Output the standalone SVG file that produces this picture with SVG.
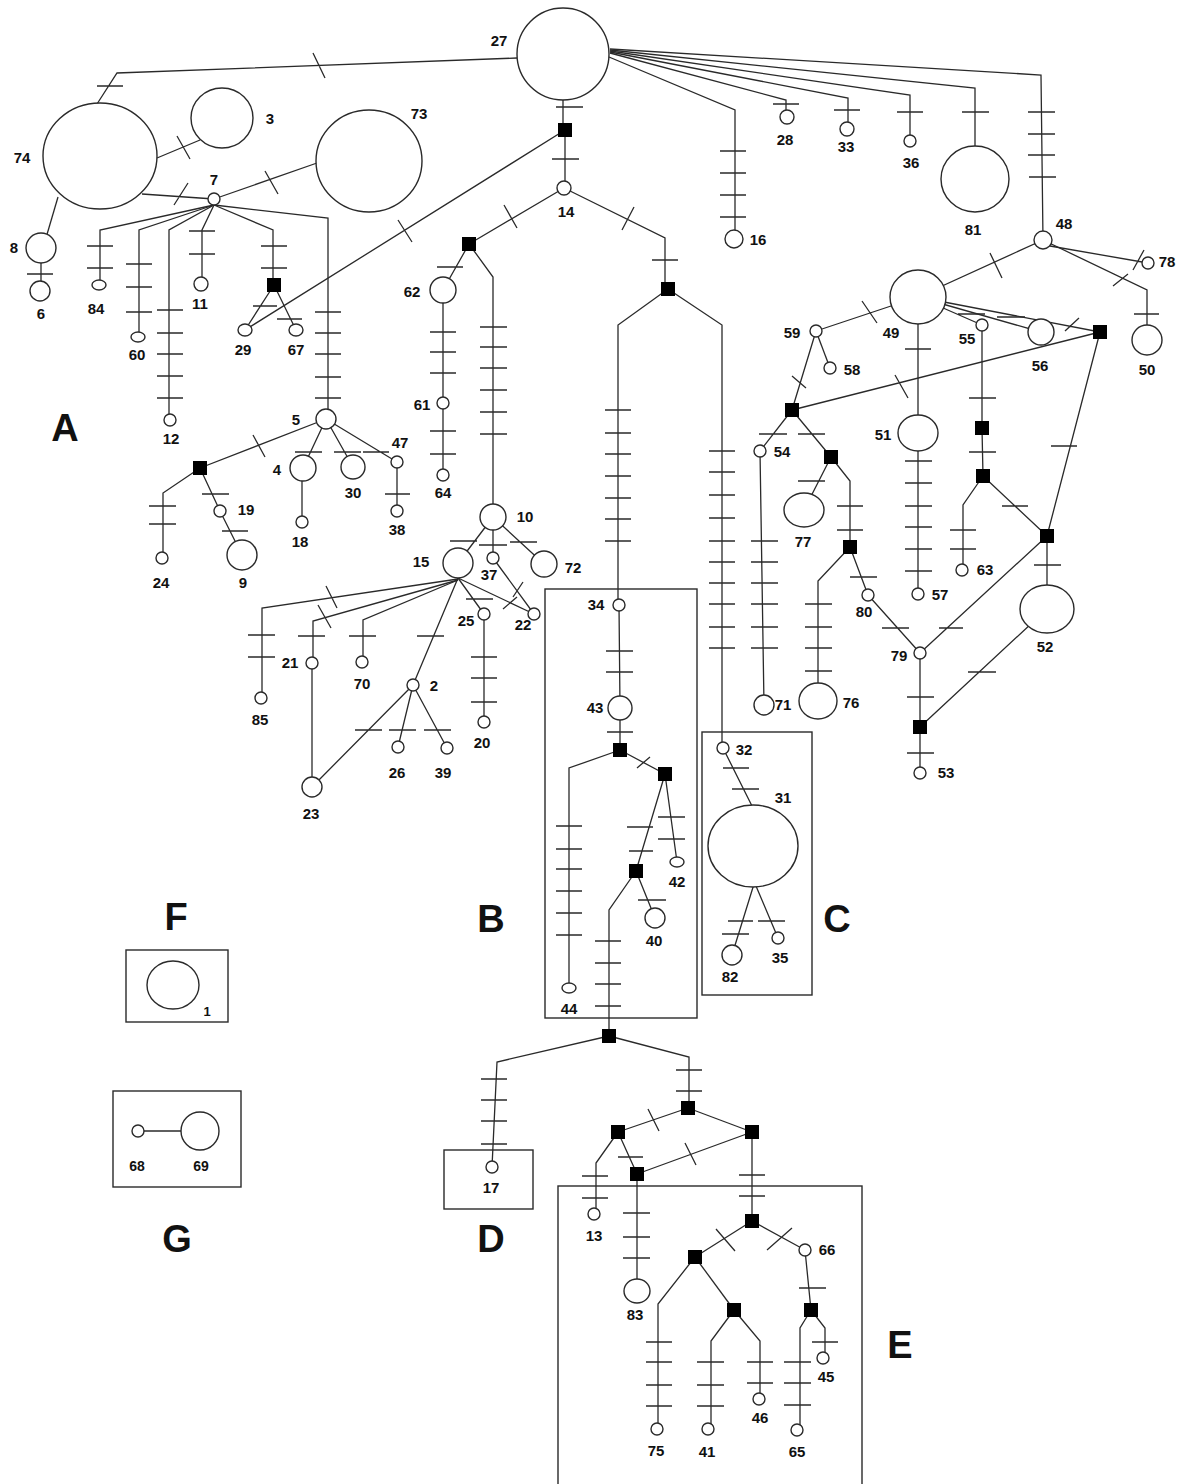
<svg xmlns="http://www.w3.org/2000/svg" width="1184" height="1484" viewBox="0 0 1184 1484">
<style>
  .e path{fill:none;stroke:#2a2a2a;stroke-width:1.3}
  .h{fill:#fff;stroke:#2a2a2a;stroke-width:1.4}
  .mv{fill:#000}
  .box{fill:none;stroke:#2a2a2a;stroke-width:1.4}
  text{font-family:"Liberation Sans",Arial,sans-serif;font-weight:bold;fill:#111}
  .lb{font-size:15px;text-anchor:middle}
  .grp{font-size:38px;text-anchor:middle}
</style>
<rect width="1184" height="1484" fill="#fff"/>

<!-- clade boxes -->
<g id="boxes">
  <rect class="box" x="545" y="589" width="152" height="429"/>
  <rect class="box" x="702" y="732" width="110" height="263"/>
  <rect class="box" x="444" y="1150" width="89" height="59"/>
  <rect class="box" x="558" y="1186" width="304" height="330"/>
  <rect class="box" x="126" y="950" width="102" height="72"/>
  <rect class="box" x="113" y="1091" width="128" height="96"/>
</g>

<!-- connectors; each path carries its mutation ticks -->
<g id="connectors" class="e">
  <path d="M517,58 L117,73 L97,104 M97,86 H123 M313,53 L325,78"/>
  <path d="M157,158 L200,140 M177,136 L190,159"/>
  <path d="M142,194 L214,199 M174,205 L188,183"/>
  <path d="M214,199 L317,163 M265,171 L278,194"/>
  <path d="M58,197 L43,248"/>
  <path d="M41,248 V291 M27,274 H53"/>
  <path d="M214,205 L100,230 V285 M87,246 H113 M87,268 H113"/>
  <path d="M214,205 L139,230 V337 M126,264 H152 M126,287 H152 M126,312 H152"/>
  <path d="M214,205 L169,230 V420 M157,310 H183 M157,333 H183 M157,354 H183 M157,376 H183 M157,398 H183"/>
  <path d="M214,205 L202,230 V284 M189,231 H215 M189,254 H215"/>
  <path d="M214,205 L273,230 V285 M261,246 H287 M261,268 H287"/>
  <path d="M214,205 L328,218 V419 M315,312 H341 M315,333 H341 M315,354 H341 M315,377 H341 M315,398 H341"/>
  <path d="M274,285 L245,330 M253,306 H277"/>
  <path d="M274,285 L296,330 M277,319 H302"/>
  <path d="M245,330 L565,130 M398,220 L412,242"/>
  <path d="M563,54 V130 M556,107 H583"/>
  <path d="M565,130 V188 M552,159 H579"/>
  <path d="M564,188 L469,244 M504,205 L517,228"/>
  <path d="M469,244 L443,290 M437,267 H463"/>
  <path d="M469,244 L493,277 V517 M480,327 H507 M480,347 H507 M480,368 H507 M480,390 H507 M480,412 H507 M480,434 H507"/>
  <path d="M443,290 V403 M430,332 H456 M430,352 H456 M430,373 H456"/>
  <path d="M443,403 V475 M430,431 H456 M430,454 H456"/>
  <path d="M564,188 L665,238 V289 M622,230 L634,207 M652,260 H678"/>
  <path d="M668,289 L618,325 V605 M605,410 H631 M605,433 H631 M605,454 H631 M605,476 H631 M605,498 H631 M605,519 H631 M605,541 H631"/>
  <path d="M668,289 L722,325 V748 M709,451 H735 M709,472 H735 M709,495 H735 M709,518 H735 M709,541 H735 M709,562 H735 M709,583 H735 M709,604 H735 M709,627 H735 M709,648 H735"/>
  <path d="M619,605 L620,708 M606,651 H633 M606,672 H633"/>
  <path d="M620,708 V750 M607,732 H633"/>
  <path d="M620,750 L569,768 V988 M556,826 H582 M556,849 H582 M556,869 H582 M556,891 H582 M556,913 H582 M556,935 H582"/>
  <path d="M620,750 L665,774 M637,768 L650,757"/>
  <path d="M665,774 L677,862 M658,817 H685 M658,839 H685"/>
  <path d="M665,774 L636,871 M627,827 H653 M629,851 H653"/>
  <path d="M636,871 L655,918 M638,900 H666"/>
  <path d="M636,871 L609,910 V1036 M595,941 H621 M595,963 H621 M595,984 H621 M595,1006 H621"/>
  <path d="M723,748 L753,808 M723,768 H749 M732,789 H759"/>
  <path d="M754,884 L732,955 M728,921 H753 M722,934 H749"/>
  <path d="M756,886 L778,938 M758,921 H785"/>
  <path d="M493,517 L458,563 M450,541 H477"/>
  <path d="M493,517 V558 M479,545 H507"/>
  <path d="M493,517 L544,564 M510,542 H537"/>
  <path d="M493,558 L534,614 M513,597 L523,582"/>
  <path d="M458,578 L534,614 M503,609 L517,597"/>
  <path d="M458,578 L484,614 M466,599 H493"/>
  <path d="M484,614 V722 M471,657 H497 M471,678 H497 M471,702 H497"/>
  <path d="M458,578 L413,685 M417,636 H444"/>
  <path d="M413,685 L398,747 M389,730 H416"/>
  <path d="M413,685 L447,748 M424,730 H451"/>
  <path d="M413,685 L312,787 M355,730 H382"/>
  <path d="M458,579 L262,608 V698 M248,635 H275 M248,657 H275 M326,586 L337,608"/>
  <path d="M458,580 L313,621 V663 M318,605 L331,628 M298,636 H325"/>
  <path d="M312,663 V787"/>
  <path d="M458,580 L363,620 V662 M349,636 H376"/>
  <path d="M326,419 L200,468 M253,435 L265,457"/>
  <path d="M326,419 L303,468 M295,452 H322"/>
  <path d="M326,419 L353,467 M334,452 H361"/>
  <path d="M326,419 L397,462 M363,452 H389"/>
  <path d="M397,462 V511 M385,494 H410"/>
  <path d="M302,468 V522"/>
  <path d="M200,468 L163,493 V558 M149,506 H176 M149,524 H176"/>
  <path d="M200,468 L220,511 M202,494 H229"/>
  <path d="M220,511 L242,555 M222,531 H248"/>
  <path d="M609,57 L735,110 V239 M720,151 H746 M720,173 H746 M720,195 H746 M720,217 H746"/>
  <path d="M610,53 L786,100 V117 M773,104 H799"/>
  <path d="M610,52 L848,98 V129 M834,110 H860"/>
  <path d="M610,51 L910,95 V141 M897,112 H923"/>
  <path d="M610,50 L975,88 V179 M962,112 H989"/>
  <path d="M610,49 L1041,75 L1043,240 M1028,112 H1055 M1028,134 H1055 M1028,155 H1055 M1029,177 H1056"/>
  <path d="M1050,246 L1148,263 M1133,270 L1144,250"/>
  <path d="M1043,240 L1147,290 V340 M1113,286 L1128,274 M1134,314 H1159"/>
  <path d="M1043,240 L918,297 M990,253 L1002,278"/>
  <path d="M918,297 L816,331 M862,301 L877,323"/>
  <path d="M816,331 L830,368"/>
  <path d="M816,331 L792,410 M792,376 L806,388"/>
  <path d="M918,297 L982,325 M958,314 H985"/>
  <path d="M918,297 L1041,332 M997,317 H1025"/>
  <path d="M918,297 L1100,332 M1065,331 L1079,318"/>
  <path d="M1100,332 L792,410 M895,375 L908,398"/>
  <path d="M918,297 V433 M905,349 H931"/>
  <path d="M918,433 V594 M905,461 H932 M905,483 H932 M905,506 H932 M905,527 H932 M905,549 H932 M905,571 H932"/>
  <path d="M982,325 V428 M969,398 H996"/>
  <path d="M982,428 L983,476 M969,452 H996"/>
  <path d="M983,476 L963,505 V570 M950,530 H976 M950,549 H976"/>
  <path d="M983,476 L1047,536 M1002,506 H1028"/>
  <path d="M1100,332 L1047,536 M1051,446 H1077"/>
  <path d="M1047,536 V609 M1034,565 H1061"/>
  <path d="M1047,536 L920,653 M939,628 H963"/>
  <path d="M1047,609 L920,727 M968,672 H996"/>
  <path d="M920,653 V727 M907,697 H934"/>
  <path d="M920,727 V773 M907,753 H934"/>
  <path d="M868,595 L920,653 M882,628 H909"/>
  <path d="M792,410 L760,451 M759,434 H787"/>
  <path d="M792,410 L831,457 M798,434 H825"/>
  <path d="M831,457 L804,510 M798,481 H825"/>
  <path d="M831,457 L850,481 V547 M837,506 H863 M837,530 H863"/>
  <path d="M850,547 L818,581 V701 M805,604 H832 M805,627 H832 M805,648 H832 M805,671 H832"/>
  <path d="M850,547 L868,595 M850,577 H877"/>
  <path d="M760,451 L764,705 M751,541 H778 M751,562 H778 M751,583 H778 M751,604 H778 M751,627 H778 M751,648 H778"/>
  <path d="M609,1036 L497,1062 L492,1167 M481,1079 H507 M481,1100 H507 M481,1121 H507 M481,1144 H507"/>
  <path d="M609,1036 L689,1057 V1108 M676,1070 H702 M676,1091 H702"/>
  <path d="M688,1108 L618,1132 M648,1109 L659,1131"/>
  <path d="M688,1108 L752,1132"/>
  <path d="M618,1132 L596,1163 V1214 M582,1176 H608 M582,1198 H608"/>
  <path d="M618,1132 L637,1174 M618,1157 H643"/>
  <path d="M752,1132 L637,1174 M685,1143 L696,1165"/>
  <path d="M637,1174 V1291 M623,1213 H650 M623,1237 H650 M623,1258 H650"/>
  <path d="M752,1132 V1221 M739,1175 H765 M739,1196 H765"/>
  <path d="M752,1221 L695,1257 M716,1229 L735,1251"/>
  <path d="M752,1221 L805,1250 M767,1250 L792,1228"/>
  <path d="M695,1257 L658,1304 V1429 M646,1342 H672 M646,1362 H672 M646,1385 H672 M646,1406 H672"/>
  <path d="M695,1257 L734,1310"/>
  <path d="M734,1310 L711,1341 V1429 M697,1362 H724 M697,1385 H724 M697,1406 H724"/>
  <path d="M734,1310 L760,1341 V1399 M747,1362 H773 M747,1383 H773"/>
  <path d="M805,1250 L811,1310 M799,1288 H826"/>
  <path d="M811,1310 L800,1328 V1430 M784,1362 H811 M784,1383 H811 M784,1405 H811"/>
  <path d="M811,1310 L825,1328 V1358 M812,1342 H838"/>
  <path d="M138,1131 H200"/>
</g>

<!-- haplotypes -->
<g id="h27"><circle class="h" cx="563" cy="54" r="46"/><text class="lb" x="499" y="46">27</text></g>
<g id="h74"><ellipse class="h" cx="100" cy="156" rx="57" ry="53"/><text class="lb" x="22" y="163">74</text></g>
<g id="h3"><ellipse class="h" cx="222" cy="118" rx="31" ry="30"/><text class="lb" x="270" y="124">3</text></g>
<g id="h73"><ellipse class="h" cx="369" cy="161" rx="53" ry="51"/><text class="lb" x="419" y="119">73</text></g>
<g id="h7"><circle class="h" cx="214" cy="199" r="6"/><text class="lb" x="214" y="185">7</text></g>
<g id="h8"><circle class="h" cx="41" cy="248" r="15"/><text class="lb" x="14" y="253">8</text></g>
<g id="h6"><circle class="h" cx="40" cy="291" r="10"/><text class="lb" x="41" y="319">6</text></g>
<g id="h84"><ellipse class="h" cx="99" cy="285" rx="7" ry="5"/><text class="lb" x="96" y="314">84</text></g>
<g id="h60"><ellipse class="h" cx="138" cy="337" rx="7" ry="5"/><text class="lb" x="137" y="360">60</text></g>
<g id="h12"><circle class="h" cx="170" cy="420" r="6"/><text class="lb" x="171" y="444">12</text></g>
<g id="h11"><circle class="h" cx="201" cy="284" r="7"/><text class="lb" x="200" y="309">11</text></g>
<g id="h29"><ellipse class="h" cx="245" cy="330" rx="7" ry="6"/><text class="lb" x="243" y="355">29</text></g>
<g id="h67"><ellipse class="h" cx="296" cy="330" rx="7" ry="6"/><text class="lb" x="296" y="355">67</text></g>
<g id="h5"><circle class="h" cx="326" cy="419" r="10"/><text class="lb" x="296" y="425">5</text></g>
<g id="h4"><circle class="h" cx="303" cy="468" r="13"/><text class="lb" x="277" y="475">4</text></g>
<g id="h30"><circle class="h" cx="353" cy="467" r="12"/><text class="lb" x="353" y="498">30</text></g>
<g id="h47"><circle class="h" cx="397" cy="462" r="6"/><text class="lb" x="400" y="448">47</text></g>
<g id="h38"><circle class="h" cx="397" cy="511" r="6"/><text class="lb" x="397" y="535">38</text></g>
<g id="h18"><circle class="h" cx="302" cy="522" r="6"/><text class="lb" x="300" y="547">18</text></g>
<g id="h24"><circle class="h" cx="162" cy="558" r="6"/><text class="lb" x="161" y="588">24</text></g>
<g id="h19"><circle class="h" cx="220" cy="511" r="6"/><text class="lb" x="246" y="515">19</text></g>
<g id="h9"><circle class="h" cx="242" cy="555" r="15"/><text class="lb" x="243" y="588">9</text></g>
<g id="h14"><circle class="h" cx="564" cy="188" r="7"/><text class="lb" x="566" y="217">14</text></g>
<g id="h62"><circle class="h" cx="443" cy="290" r="13"/><text class="lb" x="412" y="297">62</text></g>
<g id="h61"><circle class="h" cx="443" cy="403" r="6"/><text class="lb" x="422" y="410">61</text></g>
<g id="h64"><circle class="h" cx="443" cy="475" r="6"/><text class="lb" x="443" y="498">64</text></g>
<g id="h10"><circle class="h" cx="493" cy="517" r="13"/><text class="lb" x="525" y="522">10</text></g>
<g id="h15"><circle class="h" cx="458" cy="563" r="15"/><text class="lb" x="421" y="567">15</text></g>
<g id="h37"><circle class="h" cx="493" cy="558" r="6"/><text class="lb" x="489" y="580">37</text></g>
<g id="h72"><circle class="h" cx="544" cy="564" r="13"/><text class="lb" x="573" y="573">72</text></g>
<g id="h22"><circle class="h" cx="534" cy="614" r="6"/><text class="lb" x="523" y="630">22</text></g>
<g id="h25"><circle class="h" cx="484" cy="614" r="6"/><text class="lb" x="466" y="626">25</text></g>
<g id="h20"><circle class="h" cx="484" cy="722" r="6"/><text class="lb" x="482" y="748">20</text></g>
<g id="h2"><circle class="h" cx="413" cy="685" r="6"/><text class="lb" x="434" y="691">2</text></g>
<g id="h26"><circle class="h" cx="398" cy="747" r="6"/><text class="lb" x="397" y="778">26</text></g>
<g id="h39"><circle class="h" cx="447" cy="748" r="6"/><text class="lb" x="443" y="778">39</text></g>
<g id="h23"><circle class="h" cx="312" cy="787" r="10"/><text class="lb" x="311" y="819">23</text></g>
<g id="h85"><circle class="h" cx="261" cy="698" r="6"/><text class="lb" x="260" y="725">85</text></g>
<g id="h21"><circle class="h" cx="312" cy="663" r="6"/><text class="lb" x="290" y="668">21</text></g>
<g id="h70"><circle class="h" cx="362" cy="662" r="6"/><text class="lb" x="362" y="689">70</text></g>
<g id="h34"><circle class="h" cx="619" cy="605" r="6"/><text class="lb" x="596" y="610">34</text></g>
<g id="h43"><circle class="h" cx="620" cy="708" r="12"/><text class="lb" x="595" y="713">43</text></g>
<g id="h44"><ellipse class="h" cx="569" cy="988" rx="7" ry="5"/><text class="lb" x="569" y="1014">44</text></g>
<g id="h42"><ellipse class="h" cx="677" cy="862" rx="7" ry="5"/><text class="lb" x="677" y="887">42</text></g>
<g id="h40"><circle class="h" cx="655" cy="918" r="10"/><text class="lb" x="654" y="946">40</text></g>
<g id="h32"><circle class="h" cx="723" cy="748" r="6"/><text class="lb" x="744" y="755">32</text></g>
<g id="h31"><ellipse class="h" cx="753" cy="846" rx="45" ry="41"/><text class="lb" x="783" y="803">31</text></g>
<g id="h82"><circle class="h" cx="732" cy="955" r="10"/><text class="lb" x="730" y="982">82</text></g>
<g id="h35"><circle class="h" cx="778" cy="938" r="6"/><text class="lb" x="780" y="963">35</text></g>
<g id="h16"><circle class="h" cx="734" cy="239" r="9"/><text class="lb" x="758" y="245">16</text></g>
<g id="h28"><circle class="h" cx="787" cy="117" r="7"/><text class="lb" x="785" y="145">28</text></g>
<g id="h33"><circle class="h" cx="847" cy="129" r="7"/><text class="lb" x="846" y="152">33</text></g>
<g id="h36"><circle class="h" cx="910" cy="141" r="6"/><text class="lb" x="911" y="168">36</text></g>
<g id="h81"><ellipse class="h" cx="975" cy="179" rx="34" ry="33"/><text class="lb" x="973" y="235">81</text></g>
<g id="h48"><circle class="h" cx="1043" cy="240" r="9"/><text class="lb" x="1064" y="229">48</text></g>
<g id="h78"><circle class="h" cx="1148" cy="263" r="6"/><text class="lb" x="1167" y="267">78</text></g>
<g id="h50"><circle class="h" cx="1147" cy="340" r="15"/><text class="lb" x="1147" y="375">50</text></g>
<g id="h49"><ellipse class="h" cx="918" cy="297" rx="28" ry="27"/><text class="lb" x="891" y="338">49</text></g>
<g id="h59"><circle class="h" cx="816" cy="331" r="6"/><text class="lb" x="792" y="338">59</text></g>
<g id="h58"><circle class="h" cx="830" cy="368" r="6"/><text class="lb" x="852" y="375">58</text></g>
<g id="h55"><circle class="h" cx="982" cy="325" r="6"/><text class="lb" x="967" y="344">55</text></g>
<g id="h56"><circle class="h" cx="1041" cy="332" r="13"/><text class="lb" x="1040" y="371">56</text></g>
<g id="h51"><ellipse class="h" cx="918" cy="433" rx="20" ry="18"/><text class="lb" x="883" y="440">51</text></g>
<g id="h57"><circle class="h" cx="918" cy="594" r="6"/><text class="lb" x="940" y="600">57</text></g>
<g id="h63"><circle class="h" cx="962" cy="570" r="6"/><text class="lb" x="985" y="575">63</text></g>
<g id="h52"><ellipse class="h" cx="1047" cy="609" rx="27" ry="24"/><text class="lb" x="1045" y="652">52</text></g>
<g id="h79"><circle class="h" cx="920" cy="653" r="6"/><text class="lb" x="899" y="661">79</text></g>
<g id="h53"><circle class="h" cx="920" cy="773" r="6"/><text class="lb" x="946" y="778">53</text></g>
<g id="h80"><circle class="h" cx="868" cy="595" r="6"/><text class="lb" x="864" y="617">80</text></g>
<g id="h54"><circle class="h" cx="760" cy="451" r="6"/><text class="lb" x="782" y="457">54</text></g>
<g id="h77"><ellipse class="h" cx="804" cy="510" rx="20" ry="17"/><text class="lb" x="803" y="547">77</text></g>
<g id="h76"><ellipse class="h" cx="818" cy="701" rx="19" ry="18"/><text class="lb" x="851" y="708">76</text></g>
<g id="h71"><circle class="h" cx="764" cy="705" r="10"/><text class="lb" x="783" y="710">71</text></g>
<g id="h17"><circle class="h" cx="492" cy="1167" r="6"/><text class="lb" x="491" y="1193">17</text></g>
<g id="h13"><circle class="h" cx="594" cy="1214" r="6"/><text class="lb" x="594" y="1241">13</text></g>
<g id="h83"><ellipse class="h" cx="637" cy="1291" rx="13" ry="12"/><text class="lb" x="635" y="1320">83</text></g>
<g id="h66"><circle class="h" cx="805" cy="1250" r="6"/><text class="lb" x="827" y="1255">66</text></g>
<g id="h75"><circle class="h" cx="657" cy="1429" r="6"/><text class="lb" x="656" y="1456">75</text></g>
<g id="h41"><circle class="h" cx="708" cy="1429" r="6"/><text class="lb" x="707" y="1457">41</text></g>
<g id="h46"><circle class="h" cx="759" cy="1399" r="6"/><text class="lb" x="760" y="1423">46</text></g>
<g id="h65"><circle class="h" cx="797" cy="1430" r="6"/><text class="lb" x="797" y="1457">65</text></g>
<g id="h45"><circle class="h" cx="823" cy="1358" r="6"/><text class="lb" x="826" y="1382">45</text></g>
<g id="h1"><ellipse class="h" cx="173" cy="985" rx="26" ry="24"/><text x="207" y="1016" style="font-size:13px;text-anchor:middle">1</text></g>
<g id="h68"><circle class="h" cx="138" cy="1131" r="6"/><text x="137" y="1171" style="font-size:14px;text-anchor:middle">68</text></g>
<g id="h69"><circle class="h" cx="200" cy="1131" r="19"/><text x="201" y="1171" style="font-size:14px;text-anchor:middle">69</text></g>

<!-- median vectors -->
<g id="mv1"><rect class="mv" x="267" y="278" width="14" height="14"/></g>
<g id="mv2"><rect class="mv" x="558" y="123" width="14" height="14"/></g>
<g id="mv3"><rect class="mv" x="462" y="237" width="14" height="14"/></g>
<g id="mv4"><rect class="mv" x="661" y="282" width="14" height="14"/></g>
<g id="mv5"><rect class="mv" x="193" y="461" width="14" height="14"/></g>
<g id="mv6"><rect class="mv" x="613" y="743" width="14" height="14"/></g>
<g id="mv7"><rect class="mv" x="658" y="767" width="14" height="14"/></g>
<g id="mv8"><rect class="mv" x="629" y="864" width="14" height="14"/></g>
<g id="mv9"><rect class="mv" x="602" y="1029" width="14" height="14"/></g>
<g id="mv10"><rect class="mv" x="1093" y="325" width="14" height="14"/></g>
<g id="mv11"><rect class="mv" x="785" y="403" width="14" height="14"/></g>
<g id="mv12"><rect class="mv" x="975" y="421" width="14" height="14"/></g>
<g id="mv13"><rect class="mv" x="976" y="469" width="14" height="14"/></g>
<g id="mv14"><rect class="mv" x="1040" y="529" width="14" height="14"/></g>
<g id="mv15"><rect class="mv" x="913" y="720" width="14" height="14"/></g>
<g id="mv16"><rect class="mv" x="824" y="450" width="14" height="14"/></g>
<g id="mv17"><rect class="mv" x="843" y="540" width="14" height="14"/></g>
<g id="mv18"><rect class="mv" x="681" y="1101" width="14" height="14"/></g>
<g id="mv19"><rect class="mv" x="611" y="1125" width="14" height="14"/></g>
<g id="mv20"><rect class="mv" x="745" y="1125" width="14" height="14"/></g>
<g id="mv21"><rect class="mv" x="630" y="1167" width="14" height="14"/></g>
<g id="mv22"><rect class="mv" x="745" y="1214" width="14" height="14"/></g>
<g id="mv23"><rect class="mv" x="688" y="1250" width="14" height="14"/></g>
<g id="mv24"><rect class="mv" x="727" y="1303" width="14" height="14"/></g>
<g id="mv25"><rect class="mv" x="804" y="1303" width="14" height="14"/></g>

<!-- group letters -->
<g id="groups">
  <text class="grp" x="65" y="441">A</text>
  <text class="grp" x="491" y="932">B</text>
  <text class="grp" x="837" y="932">C</text>
  <text class="grp" x="491" y="1252">D</text>
  <text class="grp" x="900" y="1358">E</text>
  <text class="grp" x="176" y="930">F</text>
  <text class="grp" x="177" y="1252">G</text>
</g>
</svg>
